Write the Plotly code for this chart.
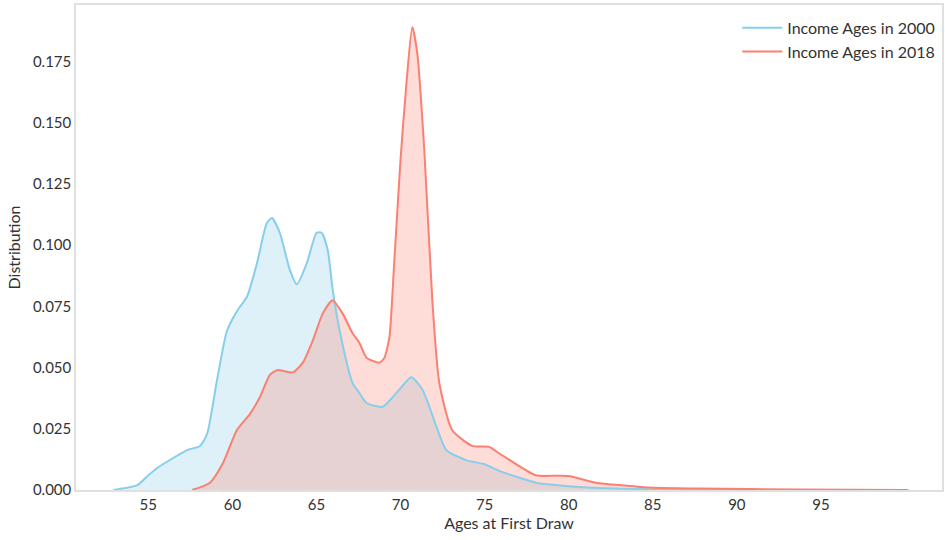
import plotly.graph_objects as go

ages_2000 = [52.93, 54.35, 55.0, 55.53, 57.31, 58.08, 58.50, 59.09, 59.68, 60.27, 60.87, 61.46,
             62.05, 62.35, 62.82, 63.41, 63.83, 64.42, 65.01, 65.31, 65.67, 65.96, 66.38, 67.15,
             67.56, 67.98, 68.93, 69.93, 70.64, 71.30, 72.13, 72.72, 73.90, 75.0, 75.86, 78.05,
             79.24, 80.0, 81.8, 84.7, 87.7, 93.6]
dens_2000 = [0.0, 0.002, 0.006, 0.009, 0.0163, 0.018, 0.023, 0.045, 0.065, 0.073, 0.079, 0.0925,
             0.109, 0.111, 0.105, 0.090, 0.084, 0.0925, 0.105, 0.105, 0.098, 0.082, 0.065, 0.0436,
             0.0395, 0.0355, 0.034, 0.041, 0.046, 0.041, 0.026, 0.0163, 0.0122, 0.0105, 0.0078, 0.003,
             0.002, 0.0015, 0.0008, 0.0003, 0.0001, 0.0]

ages_2018 = [57.6, 58.67, 59.44, 60.27, 61.04, 61.64, 62.23, 62.70, 63.59, 64.19, 64.78, 65.37,
             65.96, 66.56, 67.15, 67.56, 67.98, 68.75, 69.04, 69.34, 69.60, 70.0, 70.35, 70.70,
             71.0, 71.41, 71.89, 72.30, 73.07, 74.26, 75.27, 75.86, 78.05, 79.24, 80.0, 81.6,
             83.0, 84.7, 87.7, 93.6, 100.2]
dens_2018 = [0.0, 0.003, 0.011, 0.0245, 0.031, 0.038, 0.047, 0.049, 0.048, 0.052, 0.061, 0.072,
             0.0775, 0.072, 0.064, 0.060, 0.054, 0.052, 0.054, 0.0625, 0.09, 0.135, 0.166, 0.189,
             0.178, 0.139, 0.0775, 0.044, 0.0245, 0.018, 0.0176, 0.015, 0.006, 0.0058, 0.0057, 0.003,
             0.002, 0.001, 0.0006, 0.0002, 0.0]

x_ticks = [55, 60, 65, 70, 75, 80, 85, 90, 95]
y_ticks = [0.0, 0.025, 0.05, 0.075, 0.1, 0.125, 0.15, 0.175]

labels = ["Income Ages in 2000", "Income Ages in 2018"]
blue = "#87CEEB"
red = "#FA8072"

fig = go.Figure()
# fills first
fig.add_trace(go.Scatter(x=ages_2000, y=dens_2000, mode="lines", fill="tozeroy",
                         line=dict(color=blue, width=0, shape="spline", smoothing=0.6),
                         fillcolor="rgba(135,206,235,0.28)", showlegend=False, hoverinfo="skip"))
fig.add_trace(go.Scatter(x=ages_2018, y=dens_2018, mode="lines", fill="tozeroy",
                         line=dict(color=red, width=0, shape="spline", smoothing=0.6),
                         fillcolor="rgba(250,128,114,0.28)", showlegend=False, hoverinfo="skip"))
# lines on top
fig.add_trace(go.Scatter(x=ages_2000, y=dens_2000, mode="lines", name=labels[0],
                         line=dict(color=blue, width=2, shape="spline", smoothing=0.6), hoverinfo="skip"))
fig.add_trace(go.Scatter(x=ages_2018, y=dens_2018, mode="lines", name=labels[1],
                         line=dict(color=red, width=2, shape="spline", smoothing=0.6), hoverinfo="skip"))

fig.update_layout(
    width=945, height=540,
    margin=dict(l=76, r=1, t=5, b=50),
    paper_bgcolor="white", plot_bgcolor="white",
    font=dict(family="Lato, Open Sans, sans-serif", size=15, color="#333333"),
    legend=dict(x=0.998, y=0.988, xanchor="right", yanchor="top", bgcolor="rgba(0,0,0,0)",
                font=dict(size=16, color="#333333"), itemwidth=40),
    xaxis=dict(range=[50.7, 102.2], tickvals=x_ticks, showgrid=False, zeroline=False,
               showline=True, linecolor="#e0e0e0", linewidth=1.5, mirror=True,
               ticks="", title=dict(text="Ages at First Draw", font=dict(size=16), standoff=6)),
    yaxis=dict(range=[0, 0.198], tickvals=y_ticks, tickformat=".3f", showgrid=False, zeroline=False,
               showline=True, linecolor="#e0e0e0", linewidth=1.5, mirror=True,
               ticks="", title=dict(text="Distribution", font=dict(size=16), standoff=8)),
)

fig.write_html("out.html", config={"displayModeBar": False},
               post_script="document.body.style.margin='0';document.body.style.overflow='hidden';")
